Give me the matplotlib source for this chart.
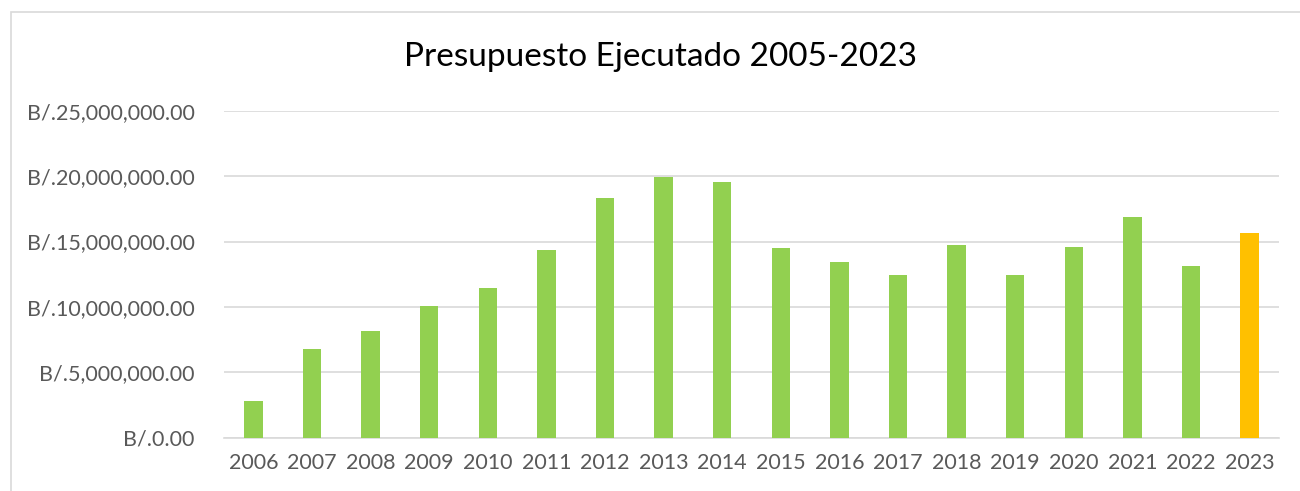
import matplotlib.pyplot as plt
from matplotlib.patches import Rectangle
from matplotlib.ticker import FuncFormatter

years = ['2006', '2007', '2008', '2009', '2010', '2011', '2012', '2013', '2014',
         '2015', '2016', '2017', '2018', '2019', '2020', '2021', '2022', '2023']
presupuesto = [2.83, 6.78, 8.18, 10.09, 11.44, 14.35, 18.30, 19.95, 19.57,
               14.53, 13.43, 12.41, 14.71, 12.41, 14.60, 16.85, 13.13, 15.65]  # millones
presupuesto = [v * 1e6 for v in presupuesto]

verde = '#92D050'
naranja = '#FFC000'
colores = [verde] * (len(years) - 1) + [naranja]

plt.rcParams['font.family'] = ['Lato', 'DejaVu Sans']

fig = plt.figure(figsize=(13, 4.91), dpi=100)
# borde del area del grafico
fig.patches.append(Rectangle((11 / 1300, -0.1), 1.2, 1 - 12 / 491 + 0.1,
                             transform=fig.transFigure, fill=False,
                             edgecolor='#D9D9D9', linewidth=1.2))

ax = fig.add_axes([224 / 1300, (491 - 437.7) / 491, 1055 / 1300, 327 / 491])
x = range(len(years))
ax.bar(x, presupuesto, width=0.315, color=colores, zorder=3)

ax.set_xlim(-0.5, len(years) - 0.5)
ax.set_ylim(0, 25e6)
ax.set_yticks([0, 5e6, 10e6, 15e6, 20e6, 25e6])
ax.yaxis.set_major_formatter(FuncFormatter(lambda v, p: 'B/.{:,.2f}'.format(v)))
ax.set_xticks(list(x))
ax.set_xticklabels(years)

ax.grid(axis='y', color='#D9D9D9', linewidth=1.2, zorder=0)
for s in ['top', 'right', 'left']:
    ax.spines[s].set_visible(False)
ax.spines['bottom'].set_color('#D9D9D9')
ax.spines['bottom'].set_linewidth(1.2)
ax.tick_params(axis='both', length=0, labelcolor='#595959', labelsize=15.5)
ax.tick_params(axis='y', pad=21)
ax.tick_params(axis='x', pad=11)

fig.text(660 / 1300, 1 - 57 / 491, 'Presupuesto Ejecutado 2005-2023',
         ha='center', va='center', fontsize=24, color='black')

fig.savefig('out.png', dpi=100)
